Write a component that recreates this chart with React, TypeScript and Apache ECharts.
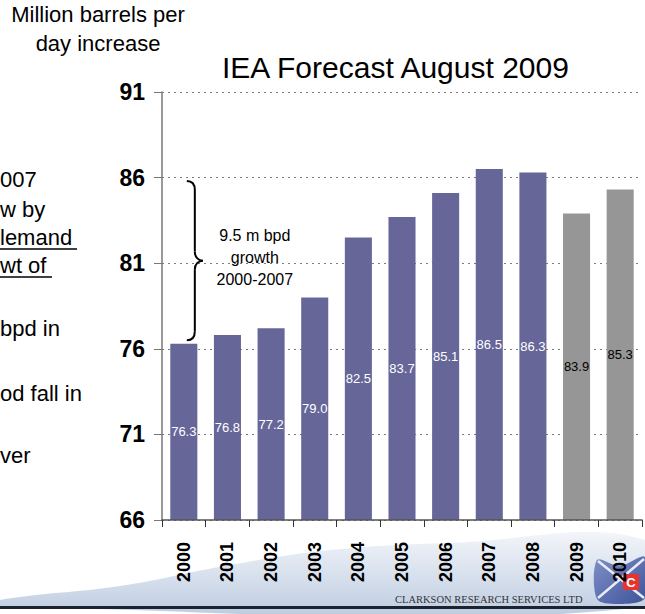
import React, { useEffect, useRef } from "react";
import * as echarts from "echarts";

const years = ["2000", "2001", "2002", "2003", "2004", "2005", "2006", "2007", "2008", "2009", "2010"];
const demand = [76.3, 76.8, 77.2, 79.0, 82.5, 83.7, 85.1, 86.5, 86.3, 83.9, 85.3];
const isForecast = [false, false, false, false, false, false, false, false, false, true, true];
const yMin = 66;
const yMax = 91;
const yStep = 5;
const chartTitle = "IEA Forecast August 2009";
const unitLines = ["Million barrels per", "day increase"];
const braceNote = ["9.5 m bpd", "growth", "2000-2007"];
const braceRange = [76.5, 85.8];
const sideFragments = ["007", "w by", "lemand", "wt of", "bpd in", "od fall in", "ver"];
const footerText = "CLARKSON RESEARCH SERVICES LTD";

const SANS = "'Liberation Sans', Arial, sans-serif";
const ACTUAL_COLOR = "#666699";
const FORECAST_COLOR = "#969696";

export default function App() {
  const ref = useRef<HTMLDivElement>(null);
  useEffect(() => {
    if (!ref.current) return;
    const chart = echarts.init(ref.current, undefined, { renderer: "svg" });
    chart.setOption({
      animation: false,
      backgroundColor: "#ffffff",
      title: {
        text: chartTitle,
        left: 217,
        top: 47,
        textStyle: { fontFamily: SANS, fontSize: 30, fontWeight: "normal", color: "#000" },
      },
      grid: { left: 162, right: 3, top: 92, bottom: 94, containLabel: false },
      xAxis: {
        type: "category",
        data: years,
        axisLine: { show: true, lineStyle: { color: "#555", width: 1.5 } },
        axisTick: { show: true, length: 7, interval: 0, lineStyle: { color: "#333" } },
        axisLabel: {
          rotate: 90,
          margin: 22,
          interval: 0,
          fontFamily: SANS,
          fontWeight: "bold",
          fontSize: 18,
          color: "#000",
        },
        z: 5,
      },
      yAxis: {
        type: "value",
        min: yMin,
        max: yMax,
        interval: yStep,
        axisLine: { show: true, lineStyle: { color: "#777", width: 1.5 } },
        axisTick: { show: true, length: 8, lineStyle: { color: "#777" } },
        splitLine: { show: true, lineStyle: { color: "#7a7a7a", type: [2, 4], width: 1 } },
        axisLabel: {
          margin: 17,
          fontFamily: SANS,
          fontWeight: "bold",
          fontSize: 23,
          color: "#000",
        },
      },
      series: [
        {
          type: "bar",
          barCategoryGap: "38%",
          data: demand.map((v, i) => ({
            value: v,
            itemStyle: { color: isForecast[i] ? FORECAST_COLOR : ACTUAL_COLOR },
            label: { color: isForecast[i] ? "#000" : "#fff" },
          })),
          label: {
            show: true,
            position: "inside",
            formatter: (p: any) => Number(p.value).toFixed(1),
            fontFamily: SANS,
            fontSize: 13,
          },
        },
      ],
    });

    const xc = chart.convertToPixel({ xAxisIndex: 0 }, years[0]) as number;
    const yTop = chart.convertToPixel({ yAxisIndex: 0 }, braceRange[1]) as number;
    const yBot = chart.convertToPixel({ yAxisIndex: 0 }, braceRange[0]) as number;
    const yMid = (yTop + yBot) / 2;
    const xl = xc + 3;
    const xs = xl + 8;
    const xt = xs + 8;
    const braceStyle = { stroke: "#000", lineWidth: 2, fill: "none" };

    const fragY = [179, 209, 237, 265, 328, 393, 455];
    const fragments: any[] = sideFragments.map((t, i) => ({
      type: "text",
      x: 0,
      y: fragY[i],
      style: { text: t, font: `22px ${SANS}`, fill: "#000", verticalAlign: "middle", textAlign: "left" },
      z: 10,
    }));

    chart.setOption({
      graphic: [
        {
          type: "polygon",
          z: -5,
          silent: true,
          shape: {
            smooth: 0.4,
            points: [
              [0, 600], [120, 586], [230, 565], [330, 550], [450, 543], [645, 540], [645, 607], [0, 607],
            ],
          },
          style: {
            fill: new echarts.graphic.LinearGradient(0, 0, 0, 1, [
              { offset: 0, color: "#f3f6fa" },
              { offset: 1, color: "#bccbe0" },
            ]),
          },
        },
        { type: "rect", z: -4, shape: { x: 0, y: 606, width: 645, height: 3 }, style: { fill: "#1c2230" } },
        {
          type: "text",
          z: -4,
          x: 395,
          y: 599,
          style: { text: footerText, font: `10.5px 'Liberation Serif', 'Times New Roman', serif`, fill: "#333", verticalAlign: "middle" },
        },
        {
          type: "polygon",
          z: -4,
          shape: {
            smooth: 0.3,
            points: [[597, 560], [620, 566], [645, 557], [645, 598], [620, 604], [597, 599]],
          },
          style: {
            fill: new echarts.graphic.LinearGradient(0, 0, 1, 1, [
              { offset: 0, color: "#8090c8" },
              { offset: 1, color: "#3d5198" },
            ]),
          },
        },
        { type: "line", z: -3, shape: { x1: 598, y1: 561, x2: 644, y2: 598 }, style: { stroke: "#e8ecf6", lineWidth: 2.5 } },
        { type: "line", z: -3, shape: { x1: 598, y1: 598, x2: 644, y2: 559 }, style: { stroke: "#e8ecf6", lineWidth: 2.5 } },
        { type: "rect", z: -2, shape: { x: 623, y: 574, width: 16, height: 16 }, style: { fill: "#e8332e" } },
        {
          type: "text",
          z: -2,
          x: 631,
          y: 582,
          style: { text: "C", font: `bold 13px ${SANS}`, fill: "#fff", textAlign: "center", verticalAlign: "middle" },
        },
        {
          type: "text",
          x: 98,
          y: 0,
          style: {
            text: unitLines.join("\n"),
            font: `22px ${SANS}`,
            fill: "#000",
            textAlign: "center",
            lineHeight: 29,
          },
        },
        {
          type: "text",
          x: xt + 52,
          y: yMid - 3,
          z: 10,
          style: {
            text: braceNote.join("\n"),
            font: `16px ${SANS}`,
            fill: "#000",
            textAlign: "center",
            verticalAlign: "middle",
            lineHeight: 22,
          },
        },
        { type: "bezierCurve", z: 10, shape: { x1: xl, y1: yTop, cpx1: xl + 5, cpy1: yTop, cpx2: xs, cpy2: yTop + 3, x2: xs, y2: yTop + 9 }, style: braceStyle },
        { type: "line", z: 10, shape: { x1: xs, y1: yTop + 9, x2: xs, y2: yMid - 9 }, style: braceStyle },
        { type: "bezierCurve", z: 10, shape: { x1: xs, y1: yMid - 9, cpx1: xs, cpy1: yMid - 3, cpx2: xs + 4, cpy2: yMid, x2: xt, y2: yMid }, style: braceStyle },
        { type: "bezierCurve", z: 10, shape: { x1: xt, y1: yMid, cpx1: xs + 4, cpy1: yMid, cpx2: xs, cpy2: yMid + 3, x2: xs, y2: yMid + 9 }, style: braceStyle },
        { type: "line", z: 10, shape: { x1: xs, y1: yMid + 9, x2: xs, y2: yBot - 9 }, style: braceStyle },
        { type: "bezierCurve", z: 10, shape: { x1: xs, y1: yBot - 9, cpx1: xs, cpy1: yBot - 3, cpx2: xl + 5, cpy2: yBot, x2: xl, y2: yBot }, style: braceStyle },
        ...fragments,
        { type: "line", z: 10, shape: { x1: 0, y1: 249, x2: 77, y2: 249 }, style: { stroke: "#000", lineWidth: 1.5 } },
        { type: "line", z: 10, shape: { x1: 0, y1: 277, x2: 52, y2: 277 }, style: { stroke: "#000", lineWidth: 1.5 } },
      ],
    });

    return () => chart.dispose();
  }, []);
  return <div ref={ref} style={{ position: "fixed", left: 0, top: 0, width: 645, height: 614 }} />;
}
